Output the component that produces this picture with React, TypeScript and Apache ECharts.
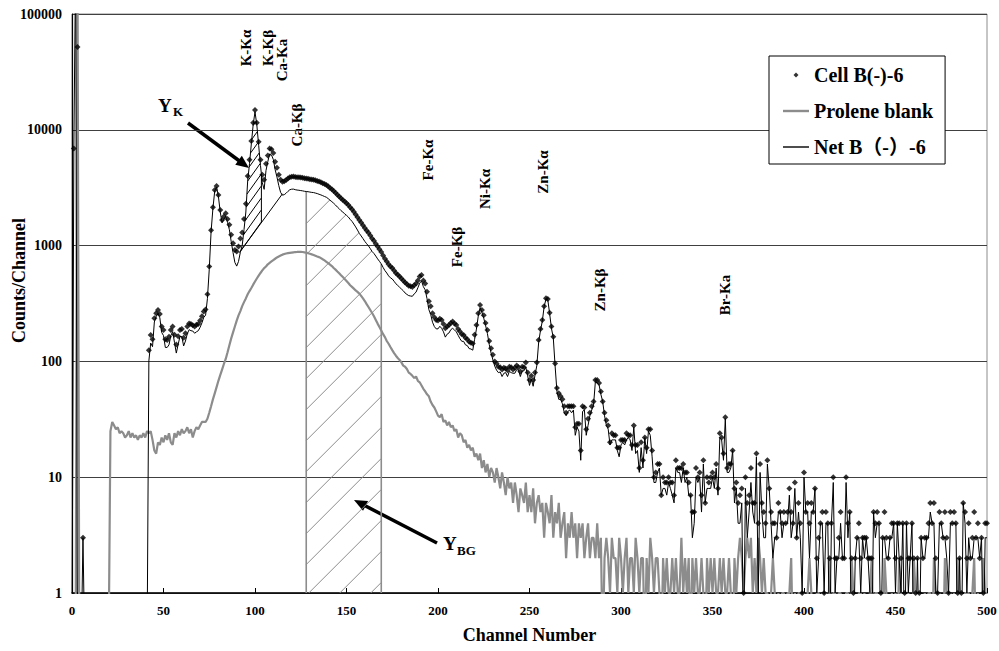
import React, { useEffect, useRef } from 'react';
import * as echarts from 'echarts';

const FONT = '"Liberation Serif", "Times New Roman", Times, serif, "Noto Sans CJK JP"';

// ---------- data ----------
const X_MIN = 0;
const X_MAX = 500;
const X_STEP = 50;
const Y_MIN = 1;
const Y_MAX = 100000;

// Cell B(-)-6 counts, channels 0..6 (detector noise spike)
const CELL_SPIKE = [0, 6900, 300000, 52000, 0, 0, 3];
// Cell B(-)-6 counts from channel 42 to 500 (channels 7..41 are zero)
const CELL_START = 42;
const CELL_MAIN = [
  125, 169, 155, 236, 260, 278, 257, 200,
  187, 155, 153, 163, 187, 200, 170, 140, 165, 187,
  190, 160, 175, 200, 212, 210, 205, 200, 207, 210,
  225, 245, 270, 280, 380, 660, 1360, 2140, 3020, 3270,
  2730, 2030, 1660, 1780, 1900, 1700, 1510, 1240, 1050, 916,
  890, 980, 1150, 1300, 1700, 2300, 4000, 5500, 8000, 11500,
  14800, 11500, 7900, 5500, 4100, 3700, 5100, 6000, 6900, 6800,
  6300, 5300, 4700, 4100, 3700, 3560, 3600, 3690, 3800, 3900,
  3940, 3950, 3920, 3900, 3890, 3870, 3850, 3820, 3800, 3780,
  3750, 3720, 3700, 3660, 3620, 3570, 3520, 3460, 3400, 3340,
  3250, 3150, 3060, 2960, 2860, 2750, 2660, 2560, 2480, 2400,
  2320, 2240, 2140, 2060, 1960, 1860, 1760, 1660, 1580, 1500,
  1420, 1350, 1290, 1220, 1150, 1100, 1040, 980, 930, 880,
  820, 770, 730, 690, 660, 640, 610, 580, 560, 540,
  520, 500, 480, 465, 450, 445, 440, 455, 470, 500,
  540, 557, 500, 470, 400, 330, 300, 260, 240, 228,
  225, 234, 228, 210, 193, 200, 206, 215, 221, 212,
  206, 190, 181, 172, 169, 160, 155, 148, 145, 143,
  170, 206, 260, 307, 278, 250, 215, 187, 150, 130,
  114, 100, 96, 90, 89, 85, 88, 87, 84, 90,
  89, 85, 88, 92, 89, 82, 90, 89, 98, 80,
  69, 75, 69, 80, 98, 153, 190, 228, 300, 351,
  345, 263, 200, 163, 96, 59, 53, 50, 47, 41,
  36, 41, 41, 41, 41, 27, 29, 29, 17, 41,
  40, 26, 32, 36, 41, 45, 69, 69, 65, 55,
  45, 36, 31, 28, 20, 24, 23, 23, 18, 18,
  21, 21, 21, 24, 23, 23, 19, 28, 19, 19,
  12, 20, 14, 22, 18, 26, 26, 17, 10, 11,
  13, 13, 7, 10, 9, 9, 10, 9, 9, 7,
  14, 12, 12, 12, 13, 11, 11, 9, 7, 5,
  5, 12, 10,
  11, 7, 14, 6, 10, 9, 10, 11, 10, 13,
  8, 24, 22, 16, 33, 12, 13, 13, 17, 8,
  9, 6, 7, 8, 1, 10, 6, 7, 12, 6,
  6, 16, 4, 13, 6, 5, 4, 14, 8, 5,
  4, 4, 3, 6, 5, 4, 5, 4, 5, 8,
  5, 4, 9, 3, 6, 4, 1, 11, 5, 6,
  4, 6, 5, 8, 2, 3, 4, 5, 1, 5,
  4, 2, 4, 10, 2, 2, 3, 5, 2, 2,
  10, 4, 5, 2, 1, 2, 3, 4, 2, 3,
  3, 3, 2, 2, 2, 5, 4, 5, 4, 1,
  3, 5, 3, 2, 3, 4, 4, 2, 4, 4,
  2, 4, 1, 4, 2, 2, 4, 2, 1, 2,
  1, 3, 2, 3, 3, 4, 6, 4, 6, 2,
  1, 5, 4, 3, 5, 3, 1, 5, 4, 5,
  4, 1, 2, 1, 6, 5, 2, 4, 2, 3,
  5, 3, 4, 2, 3, 1, 4, 4,
];

// Prolene blank counts: spike at channel 3, then channels 21..500
const BLANK_SPIKE_CH = 3;
const BLANK_SPIKE = 300000;
const BLANK_START = 21;
const BLANK_MAIN = [
  25, 30, 28, 26, 27, 24, 25, 24, 22,
  23, 25, 22, 24, 22, 23, 21, 23, 22, 24,
  22, 25, 24, 25, 21, 17, 16, 20, 19, 22,
  20, 23, 21, 24, 20, 19, 24, 22, 25, 23,
  26, 24, 25, 27, 24, 26, 22, 25, 27, 26,
  28, 30, 30, 30, 32, 36, 41, 47, 53, 60,
  68, 76, 85, 95, 105, 120, 138, 158, 178, 200,
  225, 250, 272, 300, 325, 350, 380, 405, 430, 460,
  490, 520, 550, 580, 610, 640, 660, 690, 710, 730,
  750, 770, 790, 805, 820, 835, 845, 855, 860, 865,
  870, 875, 880, 882, 885, 884, 880, 875, 868, 860,
  850, 840, 830, 818, 806, 795, 780, 762, 745, 725,
  705, 685, 665, 640, 620, 598, 577, 555, 535, 515,
  495, 475, 455, 440, 425, 410, 398, 385, 368, 350,
  332, 312, 295, 278, 262, 245, 228, 212, 198, 185,
  172, 162, 150, 142, 133, 125, 118, 112, 107, 103,
  98, 92, 90, 86, 80, 78, 75, 72, 74, 68,
  66, 62, 58, 55, 52, 50, 45, 42, 40, 37,
  34, 33, 35, 30, 31, 28, 30, 27, 28, 25,
  26, 22, 24, 23, 20, 21, 18, 19, 17, 18,
  15, 16, 14, 16, 12, 14, 11, 13, 10, 12,
  11, 9, 12, 10, 8, 11, 9, 7, 10, 8,
  9, 6, 9, 7, 5, 8, 7, 6, 9, 5,
  7, 5, 8, 4, 6, 7, 5, 6, 3, 6,
  5, 4, 7, 3, 5, 4, 6, 3, 4, 5,
  2, 4, 3, 5, 3, 4, 2, 4, 3, 4,
  2, 3, 4, 2, 3, 3, 2, 4, 2, 3,
  0, 2, 3, 2, 1, 3, 2, 2, 1, 3,
  2, 1, 2, 3, 1, 2, 2, 1, 3, 2,
  1, 2, 2, 0, 2, 1, 3, 2, 1, 2,
  2, 1, 0, 2, 1, 2, 1, 1, 2, 1,
  2, 1, 1, 3, 1, 2, 1, 2, 0, 2,
  1, 2, 1, 1, 2, 1, 0, 2, 1, 2,
  1, 2, 1, 1, 2, 1, 2, 1, 1, 2,
  1, 0, 2, 1, 2, 3, 2, 1, 2, 3,
  2, 3, 1, 2, 1, 3, 2, 1, 2, 1,
  1, 0, 1, 2, 1, 0, 1, 0, 1, 1,
  0, 1, 1, 2, 0, 1, 0, 1, 1, 0,
  1, 0, 1, 2, 1, 0, 0, 1, 1, 0,
  1, 0, 1, 0, 2, 0, 1, 1, 0, 1,
  1, 0, 0, 1, 1, 0, 2, 1, 0, 0,
  1, 1, 0, 1, 0, 0, 1, 2, 0, 1,
  1, 0, 1, 0, 2, 1, 0, 0, 1, 0,
  1, 0, 2, 1, 0, 1, 0, 1, 0, 0,
  2, 1, 0, 1, 0, 0, 1, 0, 1, 1,
  0, 2, 1, 0, 1, 0, 0, 2, 1, 0,
  1, 0, 1, 0, 2, 0, 1, 0, 1, 1,
  1, 0, 1, 2, 0, 1, 0, 0, 2, 1,
  1,
];

// Y_K region: straight background baseline under the K peaks, and right border channel
const YK_BASE = [[91.5, 870], [115, 2800]];
const YK_RIGHT = 103.5;
// Y_BG region: channel window
const YBG_RANGE = [128, 169];

const PEAK_NAMES = ['K-Kα', 'K-Kβ', 'Ca-Ka', 'Ca-Kβ', 'Fe-Kα', 'Fe-Kβ', 'Ni-Kα', 'Zn-Kα', 'Zn-Kβ', 'Br-Ka'];

const SERIES_CELL = 'Cell B(-)-6';
const SERIES_BLANK = 'Prolene blank';
const SERIES_NET = 'Net B（-）-6';

// ---------- derived tables ----------
function cellAt(ch: number): number {
  if (ch < CELL_SPIKE.length) return CELL_SPIKE[ch];
  if (ch < CELL_START) return 0;
  const v = CELL_MAIN[ch - CELL_START];
  return v === undefined ? 0 : v;
}
function blankAt(ch: number): number {
  if (ch === BLANK_SPIKE_CH) return BLANK_SPIKE;
  if (ch < BLANK_START) return 0;
  const v = BLANK_MAIN[ch - BLANK_START];
  return v === undefined ? 0 : v;
}
const FLOOR = 0.3; // zero / negative counts drawn below the log axis floor
const CHANNELS: number[] = [];
for (let ch = X_MIN; ch <= X_MAX; ch++) CHANNELS.push(ch);
const CELL = CHANNELS.map(cellAt);
const BLANK = CHANNELS.map(blankAt);
const NET = CHANNELS.map((ch, i) => CELL[i] - BLANK[i]);
const NET_PLOT = NET.map((v) => (v > 0 ? v : FLOOR));

// ---------- layout / styling ----------
const PEAK_POS = [
  [246, 48], [268, 48], [282, 60], [297, 125], [428, 160],
  [457, 247], [485, 189], [543, 172], [600, 290], [725, 295],
];

// legend icons (26 x 6 box): small diamond, thick grey bar, thin black bar
const ICON_DOT = 'path://M0,0 M26,6 M13,0.6 L15.5,3 L13,5.4 L10.5,3 Z';
const ICON_THICK = 'path://M0,0 M26,6 M0,1.8 L26,1.8 L26,4.2 L0,4.2 Z';
const ICON_THIN = 'path://M0,0 M26,6 M0,2.3 L26,2.3 L26,3.7 L0,3.7 Z';

function interp(pts: number[][]) {
  return (x: number) => {
    if (x <= pts[0][0]) return pts[0][1];
    for (let i = 1; i < pts.length; i++) {
      if (x <= pts[i][0]) {
        const [x0, y0] = pts[i - 1];
        const [x1, y1] = pts[i];
        return x1 === x0 ? y1 : y0 + ((y1 - y0) * (x - x0)) / (x1 - x0);
      }
    }
    return pts[pts.length - 1][1];
  };
}

function hatch(
  xL: number, xR: number,
  top: (x: number) => number, bot: (x: number) => number,
  spacing: number, slope: number, refX: number, refY: number,
  color: string, width: number,
) {
  const out: any[] = [];
  let cMin = Infinity;
  let cMax = -Infinity;
  for (let x = xL; x <= xR; x += 0.5) {
    cMin = Math.min(cMin, top(x) + slope * x);
    cMax = Math.max(cMax, bot(x) + slope * x);
  }
  const c0 = refY + slope * refX;
  let c = c0 + Math.ceil((cMin - c0) / spacing) * spacing;
  const push = (s: number[], e: number[]) =>
    out.push({ type: 'line', shape: { x1: s[0], y1: s[1], x2: e[0], y2: e[1] }, style: { stroke: color, lineWidth: width } });
  for (; c <= cMax; c += spacing) {
    let start: number[] | null = null;
    let last: number[] | null = null;
    for (let x = xL; x <= xR + 1e-6; x += 0.25) {
      const y = c - slope * x;
      const inside = y >= top(x) - 0.01 && y <= bot(x) + 0.01;
      if (inside) {
        if (!start) start = [x, y];
        last = [x, y];
      } else if (start && last) {
        push(start, last);
        start = null;
      }
    }
    if (start && last) push(start, last);
  }
  return out;
}

function arrow(x1: number, y1: number, x2: number, y2: number) {
  const dx = x2 - x1;
  const dy = y2 - y1;
  const len = Math.sqrt(dx * dx + dy * dy);
  const ux = dx / len;
  const uy = dy / len;
  const L = 13;
  const W = 5.5;
  const bx = x2 - ux * L;
  const by = y2 - uy * L;
  return [
    { type: 'line', shape: { x1, y1, x2: bx + ux * 2, y2: by + uy * 2 }, style: { stroke: '#000', lineWidth: 3.5 } },
    {
      type: 'polygon',
      shape: { points: [[x2, y2], [bx - uy * W, by + ux * W], [bx + uy * W, by - ux * W]] },
      style: { fill: '#000' },
    },
  ];
}

function txt(text: string, x: number, y: number, size: number, extra: any = {}) {
  return {
    type: 'text',
    x,
    y,
    ...extra,
    style: {
      text,
      font: `bold ${size}px ${FONT}`,
      fill: '#000',
      align: extra.align || 'left',
      textAlign: extra.align || 'left',
      verticalAlign: 'middle',
      textVerticalAlign: 'middle',
    },
  };
}

export default function App() {
  const ref = useRef<HTMLDivElement>(null);
  useEffect(() => {
    if (!ref.current) return;
    const chart = echarts.init(ref.current, null, { renderer: 'svg' });

    const renderRegions = (_params: any, api: any) => {
      const coord = (ch: number, v: number) => api.coord([ch, v]);
      const netPts = (a: number, b: number) => {
        const pts: number[][] = [];
        for (let ch = Math.floor(a) - 1; ch <= Math.ceil(b) + 1; ch++) pts.push(coord(ch, NET_PLOT[ch]));
        return pts;
      };
      const children: any[] = [];

      // Y_BG region
      const bgL = coord(YBG_RANGE[0], Y_MIN)[0];
      const bgR = coord(YBG_RANGE[1], Y_MIN)[0];
      const bottomY = coord(YBG_RANGE[0], Y_MIN)[1];
      const bgTop = interp(netPts(YBG_RANGE[0], YBG_RANGE[1]));
      children.push(...hatch(bgL, bgR, bgTop, () => bottomY, 31, 1, bgL + 2.5, bottomY, '#8c8c8c', 1));
      children.push({ type: 'line', shape: { x1: bgL, y1: bottomY, x2: bgL, y2: bgTop(bgL) }, style: { stroke: '#8c8c8c', lineWidth: 1.6 } });
      children.push({ type: 'line', shape: { x1: bgR, y1: bottomY, x2: bgR, y2: bgTop(bgR) }, style: { stroke: '#8c8c8c', lineWidth: 1.6 } });

      // Y_K region
      const b0 = coord(YK_BASE[0][0], YK_BASE[0][1]);
      const b1 = coord(YK_BASE[1][0], YK_BASE[1][1]);
      const kBot = interp([b0, b1]);
      const kTop = interp(netPts(YK_BASE[0][0], YK_RIGHT));
      const kR = coord(YK_RIGHT, Y_MIN)[0];
      children.push(...hatch(b0[0], kR, kTop, kBot, 12, 1.4, b0[0], b0[1], '#000', 1));
      children.push({ type: 'line', shape: { x1: kR, y1: kBot(kR), x2: kR, y2: kTop(kR) }, style: { stroke: '#000', lineWidth: 1 } });

      return { type: 'group', children };
    };

    const graphics: any[] = [];
    PEAK_NAMES.forEach((name, i) => {
      graphics.push(txt(name, PEAK_POS[i][0], PEAK_POS[i][1], 15, { align: 'center', rotation: Math.PI / 2 }));
    });
    graphics.push(...arrow(188, 123, 249, 168));
    graphics.push(...arrow(437, 543, 354, 500));
    graphics.push(txt('Y', 158, 105, 19));
    graphics.push(txt('K', 173, 111, 13));
    graphics.push(txt('Y', 443, 543, 19));
    graphics.push(txt('BG', 457, 550, 13));

    const option: any = {
      animation: false,
      backgroundColor: '#fff',
      grid: {
        left: 72, right: 12, top: 14, bottom: 58,
        show: true, borderColor: '#8c8c8c', borderWidth: 1,
        outerBoundsMode: 'none', containLabel: false,
      },
      legend: {
        orient: 'vertical',
        left: 769,
        top: 56,
        data: [
          { name: SERIES_CELL, icon: ICON_DOT, itemStyle: { color: '#000', borderWidth: 0 } },
          { name: SERIES_BLANK, icon: ICON_THICK, itemStyle: { color: '#8c8c8c', borderWidth: 0 } },
          { name: SERIES_NET, icon: ICON_THIN, itemStyle: { color: '#000', borderWidth: 0 } },
        ],
        itemWidth: 26,
        itemHeight: 6,
        itemGap: 16,
        padding: [9, 12, 7, 14],
        backgroundColor: '#fff',
        borderColor: '#000',
        borderWidth: 1,
        borderRadius: 0,
        textStyle: { fontFamily: FONT, fontWeight: 'bold', fontSize: 20, color: '#000' },
        selectedMode: false,
      },
      xAxis: {
        type: 'value',
        min: X_MIN, max: X_MAX, interval: X_STEP,
        name: 'Channel Number',
        nameLocation: 'middle',
        nameGap: 33,
        nameMoveOverlap: false,
        nameTextStyle: { fontFamily: FONT, fontWeight: 'bold', fontSize: 18, color: '#000' },
        axisLine: { show: true, onZero: false, lineStyle: { color: '#000', width: 1.5 } },
        axisTick: { show: true, inside: true, length: 5, lineStyle: { color: '#000' } },
        axisLabel: { fontFamily: FONT, fontWeight: 'bold', fontSize: 13, color: '#000', margin: 11 },
        splitLine: { show: false },
      },
      yAxis: {
        type: 'log', logBase: 10, min: Y_MIN, max: Y_MAX,
        name: 'Counts/Channel',
        nameLocation: 'middle',
        nameGap: 44,
        nameMoveOverlap: false,
        nameTextStyle: { fontFamily: FONT, fontWeight: 'bold', fontSize: 18, color: '#000', padding: [0, 0, 0, 46] },
        axisLine: { show: true, onZero: false, lineStyle: { color: '#000', width: 1.2 } },
        axisTick: { show: false },
        minorTick: { show: false },
        axisLabel: {
          fontFamily: FONT, fontWeight: 'bold', fontSize: 14, color: '#000', margin: 10,
          formatter: (v: number) => String(Math.round(v)),
        },
        splitLine: { show: true, lineStyle: { color: '#404040', width: 1 } },
      },
      series: [
        {
          type: 'custom',
          name: 'regions',
          silent: true,
          renderItem: renderRegions,
          data: [[250, 10]],
          z: 1,
        },
        {
          type: 'line',
          name: SERIES_BLANK,
          data: CHANNELS.map((ch, i) => [ch, BLANK[i] > 0 ? BLANK[i] : FLOOR]),
          symbol: 'none',
          lineStyle: { color: '#8c8c8c', width: 2.2 },
          itemStyle: { color: '#8c8c8c' },
          clip: true,
          z: 2,
        },
        {
          type: 'line',
          name: 'baseline',
          data: YK_BASE,
          symbol: 'none',
          lineStyle: { color: '#000', width: 1 },
          silent: true,
          z: 3,
        },
        {
          type: 'line',
          name: SERIES_NET,
          data: CHANNELS.map((ch, i) => [ch, NET_PLOT[i]]),
          symbol: 'none',
          lineStyle: { color: '#000', width: 1 },
          itemStyle: { color: '#000' },
          clip: true,
          z: 3,
        },
        {
          type: 'scatter',
          name: SERIES_CELL,
          data: CHANNELS.filter((ch, i) => CELL[i] > 0).map((ch) => [ch, CELL[ch]]),
          symbol: 'diamond',
          symbolSize: 6,
          itemStyle: { color: '#000' },
          clip: true,
          z: 4,
        },
      ],
      graphic: graphics,
    };

    chart.setOption(option);
    return () => chart.dispose();
  }, []);

  return <div ref={ref} style={{ position: 'absolute', left: 0, top: 0, width: 999, height: 651, background: '#fff' }} />;
}
